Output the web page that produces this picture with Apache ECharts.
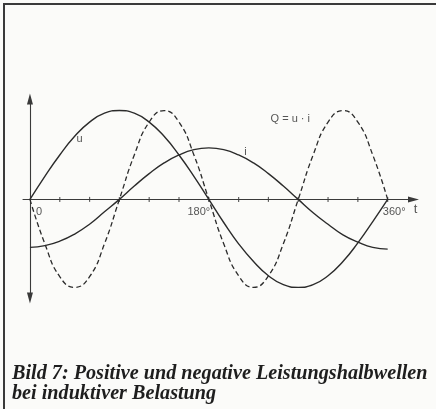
<!DOCTYPE html>
<html>
<head>
<meta charset="utf-8">
<script src="https://cdn.jsdelivr.net/npm/echarts@6/dist/echarts.min.js"></script>
<style>
  html, body { margin: 0; padding: 0; background: #fbfbf9; }
  #chart { width: 436px; height: 409px; }
</style>
</head>
<body>
<div id="chart"></div>
<script>
// Phase angle in degrees, one sample every 15°
const angles = [0, 15, 30, 45, 60, 75, 90, 105, 120, 135, 150, 165, 180,
                195, 210, 225, 240, 255, 270, 285, 300, 315, 330, 345, 360];
// Voltage u
const uValues = [0, 26, 50, 71, 87, 97, 100, 97, 87, 71, 50, 26, 0,
                 -26, -50, -70, -86, -96, -99, -96, -86, -70, -49, -25, 0];
// Current i, lagging by 90°
const iValues = [-54, -52, -47, -39, -28, -14, 0, 15, 29, 41, 50, 56, 58,
                 56, 50, 41, 29, 15, 0, -15, -28, -40, -48, -54, -56];
// Reactive power Q = u · i (twice the frequency)
const qValues = [0, -50, -87, -99, -87, -50, 0, 50, 87, 100, 87, 50, 0,
                 -50, -86, -99, -86, -50, 0, 50, 87, 100, 87, 50, 0];
// Tick marks along the time axis
const tickAngles = [30, 60, 90, 120, 150, 180, 210, 240, 270, 300, 330, 360];
// Axis labels
const axisLabelAngles = [0, 180, 360];
const axisLabelTexts = ['0', '180°', '360°'];
const axisName = 't';
// Curve names
const curveNames = ['u', 'i', 'Q = u · i'];
const caption = 'Bild 7: Positive und negative Leistungshalbwellen\nbei induktiver Belastung';

const ink = '#2b2b2b';
const sans = '"Liberation Sans", Arial, sans-serif';

const pairs = (xs, ys) => xs.map((x, k) => [x, ys[k]]);

// Label anchors in data coordinates plus pixel nudges
const labelOffsets = [[9, 12.5], [-10, 12.5], [6.5, 12.5]];
const labelData = axisLabelAngles.map((a, k) => ({
  value: [a, 0],
  label: { formatter: axisLabelTexts[k], offset: labelOffsets[k] }
}));
labelData.push({ value: [385, 0], label: { formatter: axisName, fontSize: 13, offset: [3, 10] } });
const curveAnchors = [[50, 68], [217, 53], [262, 91]];
curveNames.forEach((n, k) => {
  labelData.push({ value: curveAnchors[k], label: { formatter: n } });
});

const chart = echarts.init(document.getElementById('chart'), null, { renderer: 'canvas' });

const curveLine = { color: ink, width: 1.4 };

chart.setOption({
  animation: false,
  backgroundColor: '#fbfbf9',
  title: {
    text: caption,
    left: 12,
    top: 364,
    padding: 0,
    textStyle: {
      fontFamily: '"Liberation Serif", "Times New Roman", serif',
      fontStyle: 'italic',
      fontWeight: 'bold',
      fontSize: 20.2,
      lineHeight: 20,
      color: '#1e1e1e'
    }
  },
  graphic: [
    // figure frame: top and left rules
    { type: 'line', shape: { x1: 3, y1: 4, x2: 436, y2: 4 }, style: { stroke: '#3a3a3a', lineWidth: 2 } },
    { type: 'line', shape: { x1: 4, y1: 3, x2: 4, y2: 409 }, style: { stroke: '#3a3a3a', lineWidth: 2 } }
  ],
  grid: { left: 23, right: 22.5, top: 99, bottom: 111, containLabel: false },
  xAxis: {
    type: 'value',
    min: -7,
    max: 386,
    axisLine: {
      onZero: true,
      lineStyle: { color: '#3a3a3a', width: 1.1 },
      symbol: ['none', 'triangle'],
      symbolSize: [6, 11]
    },
    axisTick: { show: false },
    axisLabel: { show: false },
    splitLine: { show: false }
  },
  yAxis: {
    type: 'value',
    min: -111,
    max: 113,
    axisLine: {
      show: true,
      onZero: true,
      lineStyle: { color: '#3a3a3a', width: 1.1 },
      symbol: ['triangle', 'triangle'],
      symbolSize: [6, 11]
    },
    axisTick: { show: false },
    axisLabel: { show: false },
    splitLine: { show: false }
  },
  series: [
    {
      name: 'u', type: 'line', data: pairs(angles, uValues),
      smooth: 0.5, showSymbol: false, lineStyle: curveLine, z: 3
    },
    {
      name: 'i', type: 'line', data: pairs(angles, iValues),
      smooth: 0.5, showSymbol: false, lineStyle: curveLine, z: 3
    },
    {
      name: 'Q', type: 'line', data: pairs(angles, qValues),
      smooth: 0.5, showSymbol: false,
      lineStyle: { color: ink, width: 1.3, type: [5, 3] }, z: 3
    },
    {
      name: 'ticks', type: 'scatter', data: tickAngles.map(a => [a, 0]),
      symbol: 'rect', symbolSize: [1.2, 5], itemStyle: { color: '#3a3a3a' }, z: 2
    },
    {
      name: 'labels', type: 'scatter', data: labelData,
      symbolSize: 0, z: 4,
      label: {
        show: true, position: 'inside', align: 'center', verticalAlign: 'middle',
        fontFamily: sans, fontSize: 11, color: '#2a2a2a'
      }
    }
  ]
});
</script>
</body>
</html>
